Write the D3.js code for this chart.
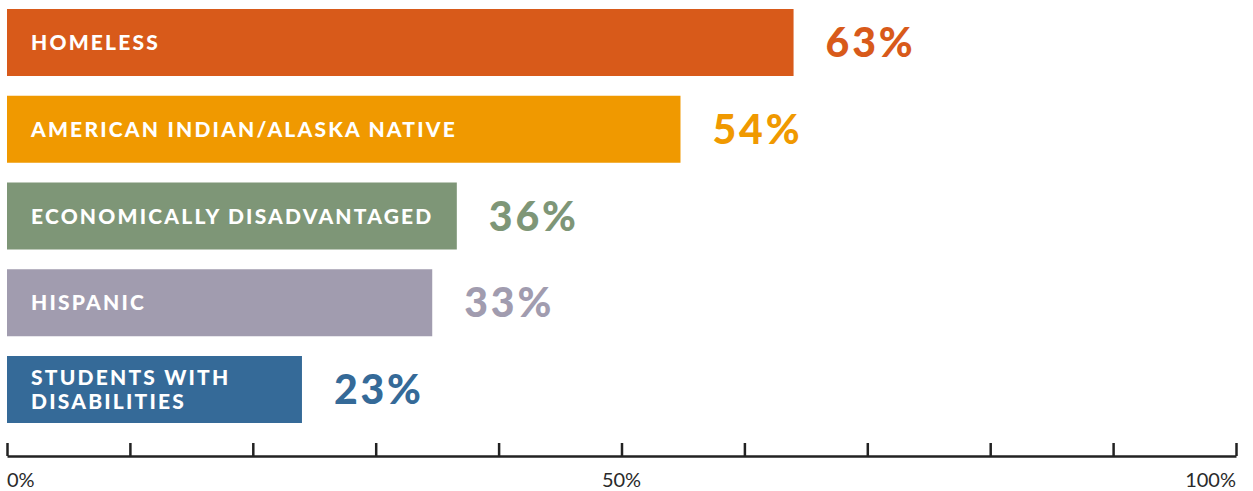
<!DOCTYPE html>
<html>
<head>
<meta charset="utf-8">
<script src="https://cdn.jsdelivr.net/npm/d3@7"></script>
<style>
  body { margin: 0; background: #fff; }
  svg { display: block; }
</style>
</head>
<body>
<script>
var width = 1253;
var height = 491;

var categories = ["HOMELESS", "AMERICAN INDIAN/ALASKA NATIVE", "ECONOMICALLY DISADVANTAGED", "HISPANIC", "STUDENTS WITH|DISABILITIES"];
var barValues = [64.0, 54.8, 36.6, 34.6, 24.0];
var valueLabels = ["63%", "54%", "36%", "33%", "23%"];
var colors = ["#d85a1a", "#f09900", "#7e9677", "#a19caf", "#356a98"];
var tickValues = [0, 10, 20, 30, 40, 50, 60, 70, 80, 90, 100];
var tickLabels = {0: "0%", 50: "50%", 100: "100%"};

var svg = d3.select("body").append("svg")
    .attr("width", width)
    .attr("height", height);

var x = d3.scaleLinear().domain([0, 100]).range([7, 1236]);
var y = d3.scaleBand().domain(d3.range(categories.length)).range([9, 423]).paddingInner(0.2277).paddingOuter(0);

var labelFont = "Lato, 'Open Sans', sans-serif";

var rows = svg.selectAll(".row")
    .data(categories)
    .enter().append("g")
    .attr("class", "row");

rows.append("rect")
    .attr("x", x(0))
    .attr("y", function(d, i) { return y(i); })
    .attr("width", function(d, i) { return x(barValues[i]) - x(0); })
    .attr("height", y.bandwidth())
    .attr("fill", function(d, i) { return colors[i]; });

rows.each(function(d, i) {
    var g = d3.select(this);
    var lines = d.split("|");
    var mid = y(i) + y.bandwidth() / 2;
    var lh = 24;
    var t = g.append("text")
        .attr("x", 31)
        .attr("fill", "#fff")
        .style("font-family", labelFont)
        .style("font-weight", 900)
        .style("font-size", "21px")
        .style("letter-spacing", "2.2px");
    lines.forEach(function(line, j) {
        t.append("tspan")
            .attr("x", 31)
            .attr("y", mid + 7.5 + (j - (lines.length - 1) / 2) * lh)
            .text(line);
    });

    g.append("text")
        .attr("x", x(barValues[i]) + 32)
        .attr("y", mid + 14.5)
        .attr("fill", colors[i])
        .style("font-family", labelFont)
        .style("font-weight", 900)
        .style("font-size", "41px")
        .style("letter-spacing", "2.8px")
        .text(valueLabels[i]);
});

var axis = d3.axisTop(x)
    .tickValues(tickValues)
    .tickSize(13)
    .tickSizeOuter(0)
    .tickFormat("");

var ag = svg.append("g")
    .attr("transform", "translate(0,456)")
    .call(axis);
ag.select(".domain").attr("stroke", "#222").attr("stroke-width", 2.5);
ag.selectAll(".tick line").attr("stroke", "#222").attr("stroke-width", 2.5);

svg.selectAll(".tlabel")
    .data(tickValues.filter(function(v) { return tickLabels[v]; }))
    .enter().append("text")
    .attr("class", "tlabel")
    .attr("x", function(v) { return x(v); })
    .attr("y", 487)
    .attr("text-anchor", function(v) { return v === 0 ? "start" : (v === 100 ? "end" : "middle"); })
    .attr("fill", "#2a2a2a")
    .style("font-family", labelFont)
    .style("font-weight", 400)
    .style("font-size", "20px")
    .text(function(v) { return tickLabels[v]; });
</script>
</body>
</html>
